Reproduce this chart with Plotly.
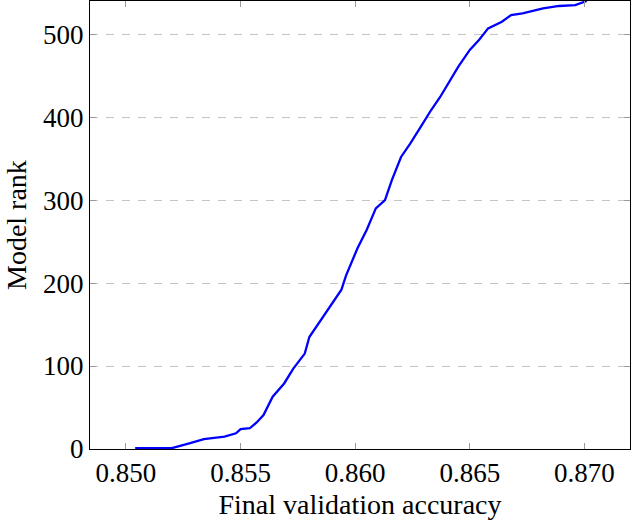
import plotly.graph_objects as go

# Digitized (accuracy, rank) points
accuracy = [0.8504, 0.8520, 0.8528, 0.8534, 0.8543, 0.8548, 0.8550, 0.8554,
            0.8557, 0.8560, 0.8564, 0.8569, 0.8573, 0.8578, 0.8580, 0.8585,
            0.8590, 0.8594, 0.8596, 0.8601, 0.8605, 0.8609, 0.8613, 0.8616,
            0.8620, 0.8624, 0.8629, 0.8633, 0.8637, 0.8641, 0.8645, 0.8650,
            0.8654, 0.8658, 0.8664, 0.8668, 0.8673, 0.8682, 0.8689, 0.8696,
            0.8701]
rank = [1, 1, 7, 12, 15, 19, 24, 25,
        32, 41, 63, 79, 97, 115, 135, 155,
        175, 192, 209, 242, 264, 290, 300, 324,
        352, 368, 390, 408, 424, 442, 461, 481,
        493, 507, 515, 523, 525, 531, 534, 535,
        540]

x_ticks = [0.850, 0.855, 0.860, 0.865, 0.870]
x_tick_labels = ["0.850", "0.855", "0.860", "0.865", "0.870"]
y_ticks = [0, 100, 200, 300, 400, 500]

FONT = "Liberation Serif"

fig = go.Figure()
fig.add_trace(go.Scatter(
    x=accuracy, y=rank, mode="lines",
    line=dict(color="rgb(0,0,255)", width=2.3),
    showlegend=False, hoverinfo="skip",
))

fig.update_layout(
    width=632, height=520,
    margin=dict(l=90, r=2, t=1, b=71),
    paper_bgcolor="white", plot_bgcolor="white",
    font=dict(family=FONT, size=27, color="black"),
    xaxis=dict(
        range=[0.84843, 0.87199],
        tickvals=x_ticks, ticktext=x_tick_labels,
        showgrid=False, zeroline=False, automargin=False,
        showline=True, linecolor="black", linewidth=1, mirror="ticks",
        ticks="inside", ticklen=6, tickcolor="#9a9a9a", tickwidth=1,
        tickfont=dict(family=FONT, size=27),
        title=dict(text="Final validation accuracy", font=dict(family=FONT, size=28), standoff=6),
    ),
    yaxis=dict(
        range=[0, 540],
        tickvals=y_ticks,
        showgrid=True, gridcolor="#c4c4c4", gridwidth=1, griddash="8px,8px",
        zeroline=False, automargin=False,
        showline=True, linecolor="black", linewidth=1, mirror="ticks",
        ticks="inside", ticklen=6, tickcolor="#9a9a9a", tickwidth=1,
        tickfont=dict(family=FONT, size=27),
    ),
    annotations=[dict(
        text="Model rank", xref="paper", yref="paper", x=0, y=0.5,
        xanchor="center", yanchor="middle", xshift=-74, textangle=-90,
        showarrow=False, font=dict(family=FONT, size=28, color="black"),
    )],
)

fig.write_html(
    "out.html",
    config={"displayModeBar": False},
    post_script="document.body.style.margin='0px';document.body.style.overflow='hidden';",
)
